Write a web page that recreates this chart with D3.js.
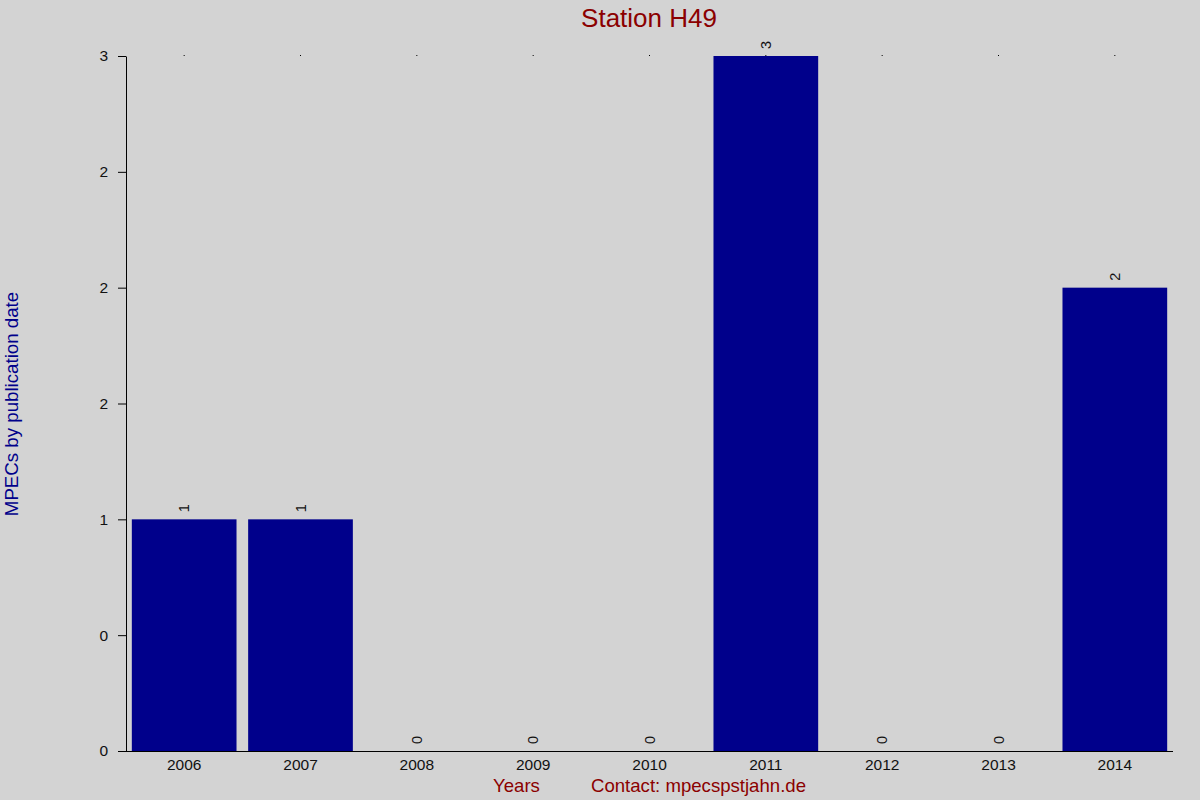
<!DOCTYPE html>
<html>
<head>
<meta charset="utf-8">
<script src="https://cdn.jsdelivr.net/npm/d3@7"></script>
<style>
	body { margin: 0; background: #d3d3d3; }
	svg { display: block; font-family: "Liberation Sans", Arial, sans-serif; }
</style>
</head>
<body>
<div id="chart"></div>
<script>
// data
const years = ["2006", "2007", "2008", "2009", "2010", "2011", "2012", "2013", "2014"];
const counts = [1, 1, 0, 0, 0, 3, 0, 0, 2];
const yTicks = [0, 0.5, 1, 1.5, 2, 2.5, 3];
const yTickLabels = ["0", "0", "1", "2", "2", "2", "3"];

const width = 1200;
const height = 800;
const margin = { top: 56, right: 27, bottom: 49, left: 126 };

const svg = d3
	.select("#chart")
	.append("svg")
	.attr("width", width)
	.attr("height", height);

svg.append("rect")
	.attr("width", width)
	.attr("height", height)
	.attr("fill", "#d3d3d3");

const xScale = d3
	.scaleBand()
	.domain(years)
	.range([margin.left, width - margin.right])
	.paddingInner(0.1)
	.paddingOuter(0.05);

const yScale = d3
	.scaleLinear()
	.domain([0, 3])
	.range([height - margin.bottom, margin.top]);

// bars
svg.selectAll("rect.bar")
	.data(counts)
	.enter()
	.append("rect")
	.attr("class", "bar")
	.attr("x", (d, i) => xScale(years[i]))
	.attr("y", (d) => yScale(d))
	.attr("width", xScale.bandwidth())
	.attr("height", (d) => yScale(0) - yScale(d))
	.attr("fill", "#00008b");

// value labels, turned on their side
svg.selectAll("text.value")
	.data(counts)
	.enter()
	.append("text")
	.attr("class", "value")
	.attr("transform", (d, i) => {
		const cx = xScale(years[i]) + xScale.bandwidth() / 2 + 5;
		return "translate(" + cx + "," + (yScale(d) - 7) + ") rotate(-90)";
	})
	.attr("font-size", 14.5)
	.attr("fill", "#111")
	.text((d) => d);

// x axis
const xAxis = d3.axisBottom(xScale).tickSize(0).tickPadding(8);
const gx = svg.append("g")
	.attr("transform", "translate(0," + yScale(0) + ")")
	.call(xAxis);
gx.select(".domain")
	.attr("d", "M" + (margin.left - 8) + ",0.5H" + (width - margin.right));
gx.selectAll("text").attr("font-size", 15.5).attr("fill", "#111").attr("font-family", null);

// little dots on top
const topAxis = d3.axisTop(xScale).tickSize(1).tickFormat("");
const gt = svg.append("g")
	.attr("transform", "translate(0," + margin.top + ")")
	.call(topAxis);
gt.select(".domain").remove();

// y axis
const yAxis = d3
	.axisLeft(yScale)
	.tickValues(yTicks)
	.tickFormat((d, i) => yTickLabels[i])
	.tickSize(8)
	.tickSizeOuter(0)
	.tickPadding(10);
const gy = svg.append("g")
	.attr("transform", "translate(" + margin.left + ",0)")
	.call(yAxis);
gy.selectAll("text").attr("font-size", 15.5).attr("fill", "#111").attr("font-family", null);

// titles
svg.append("text")
	.attr("x", 649)
	.attr("y", 27)
	.attr("text-anchor", "middle")
	.attr("font-size", 26)
	.attr("fill", "#8b0000")
	.text("Station H49");

svg.append("text")
	.attr("x", 493)
	.attr("y", 792)
	.attr("font-size", 18.6)
	.attr("fill", "#8b0000")
	.text("Years");

svg.append("text")
	.attr("x", 591)
	.attr("y", 792)
	.attr("font-size", 18.6)
	.attr("fill", "#8b0000")
	.text("Contact: mpecspstjahn.de");

svg.append("text")
	.attr("transform", "translate(18,404) rotate(-90)")
	.attr("text-anchor", "middle")
	.attr("font-size", 18.7)
	.attr("fill", "#00008b")
	.text("MPECs by publication date");
</script>
</body>
</html>
